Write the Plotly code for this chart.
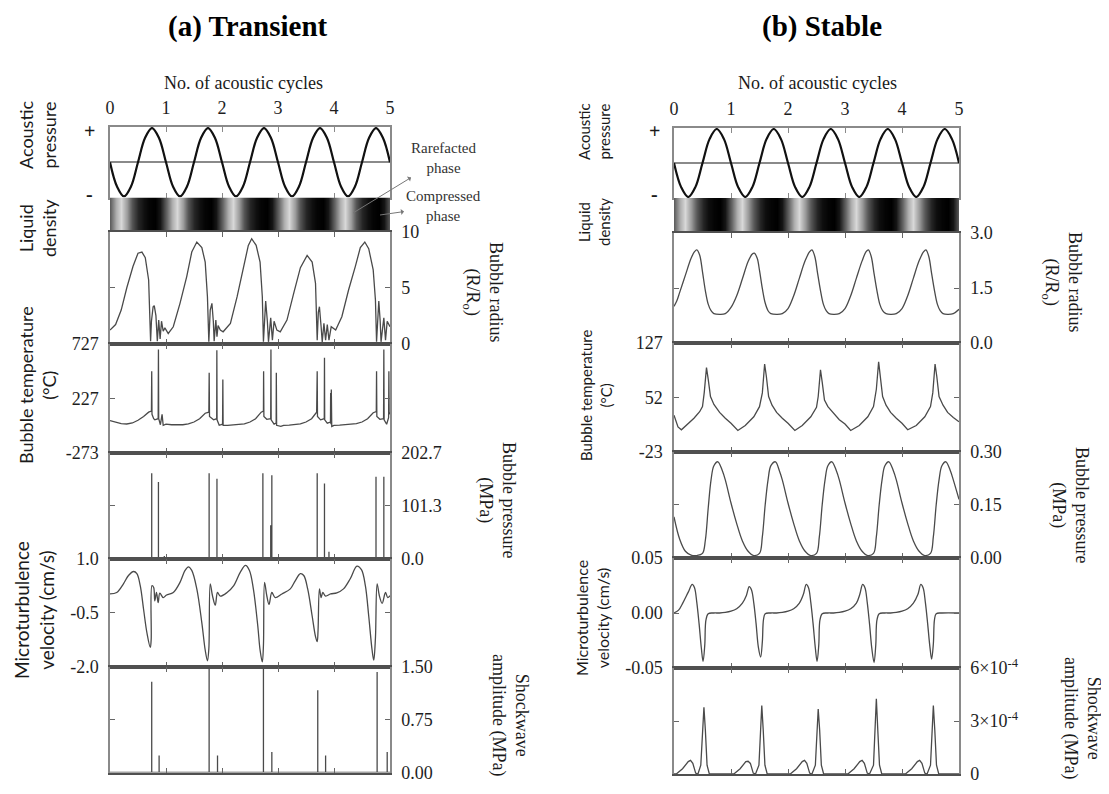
import plotly.graph_objects as go

W, H = 1109, 794
OFF = 8  # page body margin shifts the figure; compensate so marks land where intended
SERIF = "Liberation Serif"
SANS = "Lato"

# ---------------- data ----------------
CYCLE_LABELS = ["0", "1", "2", "3", "4", "5"]
ACOUSTIC_T = [i / 8 for i in range(41)]
ACOUSTIC_P = [0, -0.71, -1, -0.71, 0, 0.71, 1, 0.71,
              0, -0.71, -1, -0.71, 0, 0.71, 1, 0.71,
              0, -0.71, -1, -0.71, 0, 0.71, 1, 0.71,
              0, -0.71, -1, -0.71, 0, 0.71, 1, 0.71,
              0, -0.71, -1, -0.71, 0, 0.71, 1, 0.71, 0]
DENSITY_T = [i / 10 for i in range(51)]
DENSITY = [0.55, 0.22, 0.05, 0.3, 0.6, 0.82, 0.93, 0.98, 1.0, 0.9,
           0.55, 0.22, 0.05, 0.3, 0.6, 0.82, 0.93, 0.98, 1.0, 0.9,
           0.55, 0.22, 0.05, 0.3, 0.6, 0.82, 0.93, 0.98, 1.0, 0.9,
           0.55, 0.22, 0.05, 0.3, 0.6, 0.82, 0.93, 0.98, 1.0, 0.9,
           0.55, 0.22, 0.05, 0.3, 0.6, 0.82, 0.93, 0.98, 1.0, 0.9, 0.55]

# (a) transient
L_RADIUS = [(0, 1.2), (0.10, 1.7), (0.20, 3.0), (0.30, 5.0), (0.41, 6.9), (0.50, 8.1), (0.57, 8.2),
            (0.63, 7.7), (0.69, 5.7), (0.71, 3.3), (0.725, 0.2), (0.74, 2.0), (0.77, 3.3), (0.79, 3.4),
            (0.82, 2.5), (0.845, 0.2), (0.87, 2.1), (0.895, 0.4), (0.92, 2.0), (0.95, 1.1), (0.98, 1.4),
            (1.04, 0.9), (1.13, 1.5), (1.25, 3.6), (1.37, 6.0), (1.46, 8.2), (1.55, 9.1), (1.64, 8.6),
            (1.70, 7.3), (1.74, 4.2), (1.765, 0.15), (1.79, 3.0), (1.82, 3.6), (1.845, 2.0), (1.86, 0.2),
            (1.89, 2.1), (1.91, 0.6), (1.93, 1.6), (1.97, 1.2), (2.02, 1.05), (2.15, 1.8), (2.27, 4.2),
            (2.39, 6.9), (2.47, 8.8), (2.53, 9.4), (2.61, 8.8), (2.68, 7.3), (2.72, 4.2), (2.74, 0.15),
            (2.765, 3.0), (2.78, 3.8), (2.81, 2.0), (2.83, 0.15), (2.87, 2.3), (2.90, 0.3), (2.93, 2.0),
            (2.98, 1.2), (3.04, 1.05), (3.16, 2.1), (3.28, 4.5), (3.40, 6.8), (3.52, 7.9), (3.61, 7.3),
            (3.67, 5.4), (3.70, 0.3), (3.72, 2.8), (3.74, 3.3), (3.77, 1.5), (3.79, 0.15), (3.82, 1.8),
            (3.85, 0.3), (3.88, 1.7), (3.91, 0.3), (3.95, 1.5), (4.03, 1.2), (4.14, 2.4), (4.26, 4.8),
            (4.38, 6.9), (4.47, 8.6), (4.55, 9.1), (4.62, 8.5), (4.70, 6.6), (4.74, 3.9), (4.76, 0.15),
            (4.785, 3.0), (4.80, 3.8), (4.825, 2.0), (4.84, 0.15), (4.89, 2.3), (4.92, 0.3), (4.95, 2.0),
            (4.98, 1.6), (5.0, 1.5)]
L_TEMP = [(0, 23), (0.1, 7), (0.2, -5), (0.3, -8), (0.4, 1), (0.5, 26), (0.6, 60), (0.69, 100),
          (0.74, 110), (0.745, 474), (0.75, 80), (0.78, 40), (0.80, 30), (0.86, 40), (0.865, 672),
          (0.87, 40), (0.90, -15), (0.93, 80), (0.95, -20), (1.0, -10), (1.1, -15), (1.2, -18),
          (1.3, -15), (1.4, -8), (1.5, 10), (1.6, 40), (1.7, 90), (1.765, 100), (1.771, 460),
          (1.777, 60), (1.85, 30), (1.905, 40), (1.908, 665), (1.912, 30), (1.95, -20), (2.01, -10),
          (2.015, 398), (2.02, -20), (2.1, -20), (2.2, -18), (2.3, -15), (2.4, -8), (2.5, 10),
          (2.6, 40), (2.7, 100), (2.74, 110), (2.743, 474), (2.748, 60), (2.80, 35), (2.87, 40),
          (2.874, 672), (2.878, 30), (2.93, -10), (2.967, 0), (2.97, 459), (2.975, -20), (3.05, -30),
          (3.1, -20), (3.2, -18), (3.3, -15), (3.4, -8), (3.5, 10), (3.6, 40), (3.69, 100),
          (3.70, 474), (3.705, 60), (3.76, 30), (3.826, 40), (3.83, 596), (3.834, 30), (3.88, 0),
          (3.937, 10), (3.94, 276), (3.945, -10), (3.952, 306), (3.96, -30), (4.0, -20), (4.1, -18),
          (4.2, -15), (4.3, -12), (4.4, -5), (4.5, 10), (4.6, 40), (4.7, 95), (4.755, 105),
          (4.76, 474), (4.765, 60), (4.82, 35), (4.885, 40), (4.89, 672), (4.895, 30), (4.94, -10),
          (4.975, 50), (4.98, 474), (4.985, 80), (5.0, 100)]
L_PRESSURE_SPIKES = [(0.745, 164), (0.865, 147), (0.97, 5), (1.77, 164), (1.91, 153), (2.73, 164),
                     (2.87, 64), (2.89, 160), (3.70, 164), (3.83, 144), (3.91, 13), (4.75, 157),
                     (4.89, 157)]
L_MICRO = [(0, 0.02), (0.12, 0.06), (0.24, 0.30), (0.33, 0.53), (0.42, 0.64), (0.48, 0.58), (0.54, 0.25),
           (0.60, -0.41), (0.66, -1.06), (0.72, -1.46), (0.735, -1.25), (0.75, 0.25), (0.78, 0.20),
           (0.80, -0.17), (0.83, 0.06), (0.86, -0.22), (0.89, 0.04), (0.95, -0.08), (1.01, -0.01),
           (1.13, 0.06), (1.25, 0.34), (1.34, 0.67), (1.40, 0.77), (1.46, 0.67), (1.55, 0.16),
           (1.64, -0.78), (1.70, -1.53), (1.74, -1.83), (1.765, -1.5), (1.79, 0.30), (1.83, -0.03),
           (1.88, -0.29), (1.92, 0.06), (1.97, -0.04), (2.09, 0.06), (2.21, 0.25), (2.33, 0.63),
           (2.42, 0.81), (2.49, 0.67), (2.56, 0.16), (2.64, -0.88), (2.68, -1.53), (2.72, -1.86),
           (2.74, -1.4), (2.76, 0.34), (2.80, -0.03), (2.84, -0.27), (2.89, 0.06), (2.95, -0.08),
           (3.07, 0.02), (3.22, 0.16), (3.31, 0.39), (3.40, 0.58), (3.46, 0.53), (3.53, 0.16),
           (3.61, -0.59), (3.67, -1.16), (3.70, -1.30), (3.715, -1.0), (3.74, 0.16), (3.77, -0.08),
           (3.80, 0.06), (3.85, -0.04), (3.94, 0.02), (4.05, 0.05), (4.17, 0.16), (4.29, 0.44),
           (4.41, 0.79), (4.49, 0.69), (4.56, 0.25), (4.62, -0.59), (4.68, -1.53), (4.71, -1.81),
           (4.74, -1.2), (4.77, 0.30), (4.81, -0.03), (4.86, -0.24), (4.92, 0.06), (4.96, -0.08),
           (5.0, -0.03)]
L_SHOCK_SPIKES = [(0.745, 1.29), (0.877, 0.24), (1.77, 1.48), (1.92, 0.24), (2.74, 1.48),
                  (2.89, 0.29), (3.71, 1.17), (3.85, 0.24), (4.77, 1.43), (4.95, 0.29)]

# (b) stable
R_RADIUS = [(0, 1.0), (0.05, 1.15), (0.1, 1.38), (0.2, 1.85), (0.3, 2.31), (0.36, 2.49), (0.4, 2.54),
            (0.45, 2.4), (0.5, 1.94), (0.55, 1.43), (0.6, 1.06), (0.65, 0.88), (0.7, 0.80), (0.8, 0.78),
            (0.9, 0.80), (1.0, 0.97), (1.1, 1.29), (1.2, 1.75), (1.3, 2.22), (1.37, 2.42), (1.41, 2.45),
            (1.46, 2.31), (1.5, 1.98), (1.55, 1.48), (1.6, 1.09), (1.65, 0.88), (1.7, 0.80), (1.8, 0.78),
            (1.9, 0.80), (2.0, 0.94), (2.1, 1.29), (2.2, 1.77), (2.3, 2.24), (2.38, 2.49), (2.42, 2.54),
            (2.47, 2.36), (2.52, 1.89), (2.57, 1.43), (2.62, 1.06), (2.67, 0.88), (2.72, 0.80),
            (2.8, 0.78), (2.9, 0.80), (3.0, 0.94), (3.1, 1.29), (3.2, 1.77), (3.3, 2.24), (3.37, 2.49),
            (3.41, 2.54), (3.46, 2.36), (3.51, 1.89), (3.56, 1.43), (3.61, 1.06), (3.66, 0.88),
            (3.72, 0.80), (3.8, 0.78), (3.9, 0.80), (4.0, 0.94), (4.1, 1.29), (4.2, 1.77), (4.3, 2.24),
            (4.38, 2.49), (4.42, 2.54), (4.47, 2.36), (4.52, 1.89), (4.57, 1.43), (4.62, 1.06),
            (4.67, 0.88), (4.72, 0.80), (4.8, 0.78), (4.9, 0.80), (5.0, 0.92)]
R_TEMP = [(0, 27), (0.07, 11), (0.13, 7), (0.25, 16), (0.35, 23), (0.45, 32), (0.5, 39), (0.53, 58),
          (0.57, 93), (0.6, 77), (0.64, 53), (0.7, 42), (0.8, 31), (0.9, 23), (1.0, 16), (1.12, 6),
          (1.25, 13), (1.4, 25), (1.5, 39), (1.55, 58), (1.59, 98), (1.62, 81), (1.66, 53), (1.72, 41),
          (1.8, 31), (1.9, 23), (2.0, 16), (2.12, 6), (2.25, 13), (2.4, 25), (2.5, 38), (2.53, 53),
          (2.57, 90), (2.6, 73), (2.64, 48), (2.7, 39), (2.8, 30), (2.9, 21), (3.0, 15), (3.1, 6),
          (3.25, 13), (3.4, 25), (3.5, 39), (3.55, 63), (3.59, 101), (3.62, 81), (3.66, 53),
          (3.72, 41), (3.8, 31), (3.9, 23), (4.0, 16), (4.1, 7), (4.25, 13), (4.4, 25), (4.5, 39),
          (4.54, 58), (4.58, 98), (4.61, 81), (4.65, 53), (4.72, 41), (4.8, 31), (4.9, 24), (5.0, 18)]
R_PRESSURE = [(0, 0.116), (0.1, 0.053), (0.2, 0.019), (0.3, 0.008), (0.4, 0.007), (0.5, 0.013),
              (0.55, 0.05), (0.6, 0.14), (0.65, 0.22), (0.7, 0.26), (0.77, 0.271), (0.85, 0.245),
              (0.9, 0.22), (1.0, 0.155), (1.1, 0.097), (1.2, 0.048), (1.3, 0.019), (1.4, 0.007),
              (1.5, 0.013), (1.55, 0.06), (1.6, 0.15), (1.65, 0.22), (1.7, 0.26), (1.78, 0.271),
              (1.85, 0.245), (1.9, 0.22), (2.0, 0.155), (2.1, 0.097), (2.2, 0.048), (2.3, 0.019),
              (2.4, 0.007), (2.5, 0.013), (2.55, 0.06), (2.6, 0.15), (2.65, 0.22), (2.7, 0.26),
              (2.77, 0.271), (2.85, 0.245), (2.9, 0.22), (3.0, 0.155), (3.1, 0.097), (3.2, 0.048),
              (3.3, 0.019), (3.4, 0.007), (3.5, 0.013), (3.55, 0.06), (3.6, 0.15), (3.65, 0.22),
              (3.7, 0.26), (3.77, 0.271), (3.85, 0.245), (3.9, 0.22), (4.0, 0.155), (4.1, 0.097),
              (4.2, 0.048), (4.3, 0.019), (4.4, 0.007), (4.5, 0.013), (4.55, 0.06), (4.6, 0.15),
              (4.65, 0.22), (4.7, 0.26), (4.77, 0.271), (4.85, 0.245), (4.9, 0.22), (5.0, 0.165)]
R_MICRO = [(0, 0), (0.08, 0.0026), (0.16, 0.0097), (0.25, 0.019), (0.32, 0.026), (0.36, 0.023),
           (0.4, 0.0097), (0.44, -0.0097), (0.48, -0.032), (0.51, -0.044), (0.54, -0.029),
           (0.56, -0.0065), (0.6, -0.0006), (0.7, 0), (0.8, 0), (0.9, 0.0005), (1.0, 0.0016),
           (1.1, 0.0039), (1.2, 0.009), (1.27, 0.016), (1.32, 0.024), (1.36, 0.021), (1.4, 0.009),
           (1.44, -0.0097), (1.48, -0.031), (1.52, -0.040), (1.55, -0.026), (1.57, -0.006),
           (1.6, -0.0006), (1.7, 0), (1.8, 0), (1.9, 0.0005), (2.0, 0.0016), (2.1, 0.0039),
           (2.2, 0.009), (2.27, 0.017), (2.32, 0.026), (2.36, 0.023), (2.4, 0.0097), (2.44, -0.0097),
           (2.48, -0.032), (2.51, -0.044), (2.54, -0.029), (2.56, -0.0065), (2.6, -0.0006), (2.7, 0),
           (2.8, 0), (2.9, 0.0005), (3.0, 0.0016), (3.1, 0.0039), (3.2, 0.009), (3.26, 0.017),
           (3.31, 0.026), (3.35, 0.023), (3.39, 0.0097), (3.43, -0.0097), (3.47, -0.032),
           (3.51, -0.045), (3.54, -0.029), (3.56, -0.0065), (3.6, -0.0006), (3.7, 0), (3.8, 0),
           (3.9, 0.0005), (4.0, 0.0016), (4.1, 0.0039), (4.2, 0.009), (4.28, 0.017), (4.33, 0.026),
           (4.37, 0.023), (4.41, 0.0097), (4.45, -0.0097), (4.49, -0.031), (4.52, -0.042),
           (4.55, -0.028), (4.57, -0.006), (4.6, -0.0006), (4.7, 0), (5.0, 0)]
R_SHOCK_E4 = [(0, 0), (0.04, 0), (0.15, 0.3), (0.25, 0.7), (0.29, 0.77), (0.33, 0.6), (0.38, 0.05),
              (0.42, 0), (0.47, 0.5), (0.50, 2.5), (0.525, 3.77), (0.55, 2.5), (0.58, 0.5), (0.62, 0),
              (1.05, 0), (1.16, 0.3), (1.26, 0.7), (1.30, 0.72), (1.34, 0.6), (1.39, 0.05), (1.43, 0),
              (1.49, 0.5), (1.515, 2.5), (1.54, 3.87), (1.565, 2.5), (1.595, 0.5), (1.635, 0),
              (2.04, 0), (2.15, 0.3), (2.25, 0.7), (2.29, 0.77), (2.33, 0.6), (2.38, 0.05), (2.42, 0),
              (2.48, 0.5), (2.505, 2.5), (2.53, 3.68), (2.555, 2.5), (2.585, 0.5), (2.625, 0),
              (3.05, 0), (3.16, 0.3), (3.26, 0.7), (3.30, 0.77), (3.34, 0.6), (3.39, 0.05), (3.43, 0),
              (3.50, 0.5), (3.525, 2.5), (3.55, 4.26), (3.575, 2.5), (3.605, 0.5), (3.645, 0),
              (4.06, 0), (4.17, 0.3), (4.27, 0.7), (4.31, 0.77), (4.35, 0.6), (4.40, 0.05), (4.44, 0),
              (4.50, 0.5), (4.525, 2.5), (4.55, 3.87), (4.575, 2.5), (4.605, 0.5), (4.645, 0), (5.0, 0)]

# axis ranges / ticks for rows 2..6
L_AXES = [([0, 10], [0, 5, 10], ["0", "5", "10"], "right"),
          ([-273, 727], [-273, 227, 727], ["-273", "227", "727"], "left"),
          ([0, 202.7], [0, 101.3, 202.7], ["0.0", "101.3", "202.7"], "right"),
          ([-2, 1], [-2, -0.5, 1], ["-2.0", "-0.5", "1.0"], "left"),
          ([0, 1.5], [0, 0.75, 1.5], ["0.00", "0.75", "1.50"], "right")]
R_AXES = [([0, 3], [0, 1.5, 3], ["0.0", "1.5", "3.0"], "right"),
          ([-23, 127], [-23, 52, 127], ["-23", "52", "127"], "left"),
          ([0, 0.3], [0, 0.15, 0.3], ["0.00", "0.15", "0.30"], "right"),
          ([-0.05, 0.05], [-0.05, 0, 0.05], ["-0.05", "0.00", "0.05"], "left"),
          ([0, 6], [0, 3, 6], ["0", "3×10<sup>-4</sup>", "6×10<sup>-4</sup>"], "right")]


def unzip(pts):
    return [p[0] for p in pts], [p[1] for p in pts]


def spikes(pts):
    xs, ys = [0], [0]
    for t, v in pts:
        xs += [t, t, t]
        ys += [0, v, 0]
    xs.append(5)
    ys.append(0)
    return xs, ys


def px(x):
    return (x - OFF) / W


def py(y):
    return 1 - (y - OFF) / H


panels = [
    dict(x0=110, x1=390, rows=[127, 197.5, 232, 343.5, 453, 558.5, 667, 772.5], base=0,
         axes=L_AXES,
         series=[unzip(L_RADIUS), unzip(L_TEMP), spikes(L_PRESSURE_SPIKES), unzip(L_MICRO),
                 spikes(L_SHOCK_SPIKES)],
         shapes=["linear", "linear", "linear", "spline", "linear"]),
    dict(x0=674, x1=959, rows=[128, 198, 233, 343, 451.5, 558, 668, 774], base=7,
         axes=R_AXES,
         series=[unzip(R_RADIUS), unzip(R_TEMP), unzip(R_PRESSURE), unzip(R_MICRO),
                 unzip(R_SHOCK_E4)],
         shapes=["spline", "linear", "spline", "spline", "linear"]),
]

fig = go.Figure()
layout = {}
FRAME = "#8a8a8a"
DARK = "#505050"
TICKFONT = dict(family=SERIF, size=18, color="#1e1e1e")

for p in panels:
    rows = p["rows"]
    for r in range(7):
        n = p["base"] + r + 1
        xn = "x" if n == 1 else f"x{n}"
        yn = "y" if n == 1 else f"y{n}"
        xkey = "xaxis" if n == 1 else f"xaxis{n}"
        ykey = "yaxis" if n == 1 else f"yaxis{n}"
        xa = dict(domain=[px(p["x0"]), px(p["x1"])], range=[0, 5], anchor=yn, showgrid=False,
                  zeroline=False, fixedrange=True, automargin=False)
        ya = dict(domain=[py(rows[r + 1]), py(rows[r])], anchor=xn, showgrid=False,
                  zeroline=False, fixedrange=True, automargin=False)
        if r == 0:
            xa.update(side="top", tickvals=[0, 1, 2, 3, 4, 5], ticktext=CYCLE_LABELS,
                      ticks="inside", ticklen=5, tickcolor=FRAME, tickfont=TICKFONT,
                      ticklabelstandoff=4, showline=True, mirror="ticks", linecolor=FRAME,
                      linewidth=1.5)
            ya.update(range=[-1.03, 1.03], showticklabels=False, ticks="", showline=True,
                      mirror=True, linecolor=FRAME, linewidth=1.5, zeroline=True,
                      zerolinecolor=FRAME, zerolinewidth=1.5)
            fig.add_trace(go.Scatter(x=ACOUSTIC_T, y=ACOUSTIC_P, mode="lines",
                                     line=dict(color="#111", width=2.2, shape="spline"),
                                     xaxis=xn, yaxis=yn, hoverinfo="skip"))
        elif r == 1:
            xa.update(showticklabels=False, ticks="", showline=False)
            ya.update(range=[-0.5, 1.5], showticklabels=False, ticks="", showline=False)
            fig.add_trace(go.Heatmap(x=DENSITY_T, y=[0, 1], z=[DENSITY, DENSITY],
                                     zmin=0, zmax=1, zsmooth="best", showscale=False,
                                     colorscale=[[0, "#e4e4e4"], [0.5, "#6a6a6a"], [1, "#000000"]],
                                     xaxis=xn, yaxis=yn, hoverinfo="skip"))
        else:
            rng, tv, tt, side = p["axes"][r - 2]
            xa.update(tickvals=[1, 2, 3, 4], showticklabels=False, ticks="inside", ticklen=5,
                      tickcolor="#666", showline=True, mirror="ticks", linecolor=DARK,
                      linewidth=2)
            ya.update(range=rng, tickvals=tv, ticktext=tt, side=side, ticks="inside",
                      ticklen=5, tickcolor="#666", tickfont=TICKFONT, ticklabelstandoff=6,
                      showline=True, mirror="ticks", linecolor=FRAME, linewidth=1.5)
            xs, ys = p["series"][r - 2]
            fig.add_trace(go.Scatter(x=xs, y=ys, mode="lines",
                                     line=dict(color="#4a4a4a", width=1.3,
                                               shape=p["shapes"][r - 2]),
                                     xaxis=xn, yaxis=yn, hoverinfo="skip"))
        layout[xkey] = xa
        layout[ykey] = ya

annotations = []


def ann(text, x, y, size, family=SERIF, angle=0, color="#1a1a1a", **kw):
    d = dict(text=text, x=px(x), y=py(y), xref="paper", yref="paper", showarrow=False,
             textangle=angle, xanchor="center", yanchor="middle",
             font=dict(family=family, size=size, color=color))
    d.update(kw)
    annotations.append(d)


ann("<b>(a) Transient</b>", 248, 26, 29, color="#000")
ann("<b>(b) Stable</b>", 822, 26, 29, color="#000")
ann("No. of acoustic cycles", 243, 83, 18)
ann("No. of acoustic cycles", 817, 83, 18)
for xx in (89, 654):
    ann("<b>+</b>", xx, 131, 20)
    ann("<b>-</b>", xx, 194, 20)

# left-hand titles (sans)
ann("Acoustic<br>pressure", 37, 135, 18, SANS, -90)
ann("Liquid<br>density", 37, 228, 18, SANS, -90)
ann("Bubble temperature<br>(°C)", 37, 385, 18, SANS, -90)
ann("Microturbulence<br>velocity (cm/s)", 34, 610, 19, SANS, -90)
ann("Acoustic<br>pressure", 594, 132, 15, SANS, -90)
ann("Liquid<br>density", 594, 222, 15, SANS, -90)
ann("Bubble temperature<br>(°C)", 596, 395, 15, SANS, -90)
ann("Microturbulence<br>velocity (cm/s)", 592, 618, 16, SANS, -90)

# right-hand titles (serif)
ann("Bubble radius<br>(R/R<sub>o</sub>)", 483, 292, 18, SERIF, 90)
ann("Bubble pressure<br>(MPa)", 497, 500, 18, SERIF, 90)
ann("Shockwave<br>amplitude (MPa)", 510, 715, 18, SERIF, 90)
ann("Bubble radius<br>(R/R<sub>o</sub>)", 1062, 282, 18, SERIF, 90)
ann("Bubble pressure<br>(MPa)", 1070, 505, 18, SERIF, 90)
ann("Shockwave<br>amplitude (MPa)", 1082, 718, 18, SERIF, 90)

# phase labels; arrows run from the density bar up to the labels
ann("Rarefacted<br>phase", 353, 213, 15, SERIF, 0, "#333", showarrow=True, ax=90, ay=-55,
    arrowside="start", arrowhead=2, arrowsize=1, arrowwidth=1, arrowcolor="#777")
ann("Compressed<br>phase", 380, 215, 15, SERIF, 0, "#333", showarrow=True, ax=63, ay=-9,
    arrowside="start", arrowhead=2, arrowsize=1, arrowwidth=1, arrowcolor="#777")

fig.update_layout(width=W, height=H, margin=dict(l=0, r=0, t=0, b=0), showlegend=False,
                  paper_bgcolor="white", plot_bgcolor="white", annotations=annotations,
                  **layout)
fig.write_html("out.html")
